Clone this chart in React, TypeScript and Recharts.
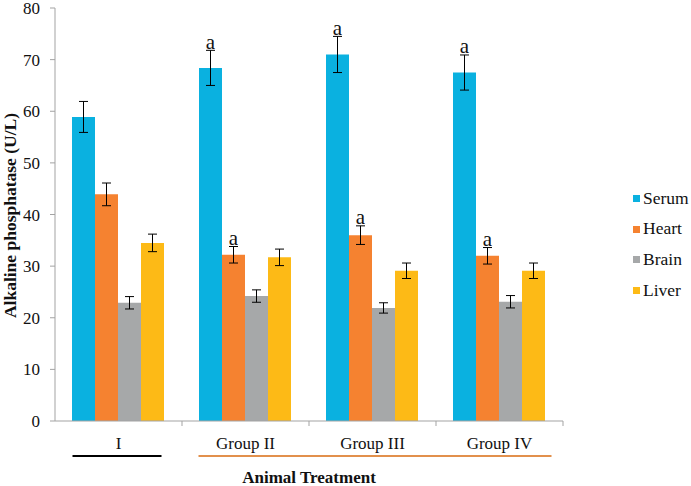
import React from 'react';
import { BarChart, Bar, XAxis, YAxis, ErrorBar, Legend, LabelList } from 'recharts';

const categories = ['I', 'Group II', 'Group III', 'Group IV'];
const seriesNames = ['Serum', 'Heart', 'Brain', 'Liver'];
const serum = [58.9, 68.4, 71.0, 67.5];
const serumErr = [3.0, 3.4, 3.5, 3.4];
const heart = [43.9, 32.2, 36.0, 32.0];
const heartErr = [2.2, 1.6, 1.8, 1.6];
const brain = [22.9, 24.2, 21.9, 23.1];
const brainErr = [1.2, 1.2, 1.0, 1.2];
const liver = [34.5, 31.7, 29.1, 29.1];
const liverErr = [1.7, 1.6, 1.5, 1.5];
const serumSig = ['', 'a', 'a', 'a'];
const heartSig = ['', 'a', 'a', 'a'];
const yTicks = [0, 10, 20, 30, 40, 50, 60, 70, 80];

const data = categories.map((c, i) => ({
  name: c,
  serum: serum[i],
  serumErr: serumErr[i],
  heart: heart[i],
  heartErr: heartErr[i],
  brain: brain[i],
  brainErr: brainErr[i],
  liver: liver[i],
  liverErr: liverErr[i],
  serumSig: serumSig[i],
  heartSig: heartSig[i],
}));

const FONT = '"Liberation Serif", "Times New Roman", serif';
const AXIS = '#A3A3A3';
const seriesColors = ['#0AB1E0', '#F58230', '#A6A8A9', '#FDBA16'];

const CategoryTick = (props: any) => {
  const { x, y, payload, index, width, visibleTicksCount } = props;
  const n = visibleTicksCount || categories.length;
  const band = width && n ? width / n : 127;
  const half = band / 2;
  const cx = Number(x);
  const ay = Number(y);
  let line: any = null;
  if (index === 0) {
    line = <line x1={cx - 46} x2={cx + 43} y1={ay + 35} y2={ay + 35} stroke="#000" strokeWidth={2} />;
  } else {
    const x1 = index === 1 ? cx - 47 : cx - half;
    const x2 = index === n - 1 ? cx + 52 : cx + half;
    line = <line x1={x1} x2={x2} y1={ay + 35} y2={ay + 35} stroke="#E2904C" strokeWidth={2} />;
  }
  return (
    <g>
      {index > 0 && <line x1={cx - half} x2={cx - half} y1={ay} y2={ay + 5} stroke={AXIS} />}
      {index === n - 1 && <line x1={cx + half} x2={cx + half} y1={ay} y2={ay + 5} stroke={AXIS} />}
      <text x={cx} y={ay + 28} textAnchor="middle" style={{ fontFamily: FONT, fontSize: 17 }} fill="#111">
        {payload.value}
      </text>
      {line}
    </g>
  );
};

const YTick = (props: any) => {
  const { x, y, payload } = props;
  return (
    <text x={Number(x)} y={Number(y)} dy={6} textAnchor="end" style={{ fontFamily: FONT, fontSize: 17 }} fill="#111">
      {payload.value}
    </text>
  );
};

const makeSigLabel = (vals: number[], errs: number[]) => (props: any) => {
  const { x, y, width, height, value, index } = props;
  if (!value) return null;
  const h = Number(height);
  const v = vals[index];
  const errPx = v ? (h / v) * errs[index] : 0;
  const top = Number(y) - errPx;
  return (
    <text x={Number(x) + Number(width) / 2} y={top - 1.5} textAnchor="middle" style={{ fontFamily: FONT, fontSize: 21 }} fill="#111">
      {value}
    </text>
  );
};

const LegendContent = () => (
  <div style={{ fontFamily: FONT, fontSize: 17.5, color: '#111', lineHeight: 1 }}>
    {seriesNames.map((name, i) => (
      <div key={name} style={{ height: 30.7, display: 'flex', alignItems: 'center' }}>
        <span style={{ display: 'inline-block', width: 7, height: 7, background: seriesColors[i], marginLeft: 3, marginRight: 3 }} />
        <span>{name}</span>
      </div>
    ))}
  </div>
);

const YLabel = (props: any) => {
  const vb = props.viewBox || { x: 0, y: 8, width: 55, height: 413 };
  const cx = 10;
  const cy = vb.y + vb.height / 2 + 1;
  return (
    <text
      x={cx}
      y={cy}
      transform={`rotate(-90, ${cx}, ${cy})`}
      textAnchor="middle"
      dy={6}
      style={{ fontFamily: FONT, fontSize: 17.5, fontWeight: 'bold' }}
      fill="#111"
    >
      Alkaline phosphatase (U/L)
    </text>
  );
};

const XLabel = (props: any) => {
  const vb = props.viewBox || { x: 55, y: 421, width: 508, height: 65 };
  return (
    <text
      x={vb.x + vb.width / 2}
      y={vb.y + 62}
      textAnchor="middle"
      style={{ fontFamily: FONT, fontSize: 17, fontWeight: 'bold' }}
      fill="#111"
    >
      Animal Treatment
    </text>
  );
};

export default function App() {
  return (
    <div style={{ position: 'absolute', left: 0, top: 0, background: '#fff' }}>
      <BarChart
        width={691}
        height={486}
        data={data}
        margin={{ top: 8, right: 128, left: 0, bottom: 0 }}
        barCategoryGap={17}
        barGap={0}
      >
        <XAxis
          dataKey="name"
          height={65}
          stroke={AXIS}
          tickLine={false}
          tickSize={0}
          tickMargin={0}
          tick={<CategoryTick />}
          interval={0}
          label={<XLabel />}
        />
        <YAxis
          width={55}
          domain={[0, 80]}
          ticks={yTicks}
          interval={0}
          stroke={AXIS}
          tickSize={5}
          tickMargin={10}
          tick={<YTick />}
          label={<YLabel />}
        />
        <Legend
          layout="vertical"
          align="center"
          verticalAlign="middle"
          content={<LegendContent />}
          wrapperStyle={{ left: 630, top: 183, width: 61 }}
        />
        <Bar dataKey="serum" name="Serum" fill={seriesColors[0]} isAnimationActive={false}>
          <ErrorBar dataKey="serumErr" width={4.5} stroke="#000" strokeWidth={1} />
          <LabelList dataKey="serumSig" content={makeSigLabel(serum, serumErr)} />
        </Bar>
        <Bar dataKey="heart" name="Heart" fill={seriesColors[1]} isAnimationActive={false}>
          <ErrorBar dataKey="heartErr" width={4.5} stroke="#000" strokeWidth={1} />
          <LabelList dataKey="heartSig" content={makeSigLabel(heart, heartErr)} />
        </Bar>
        <Bar dataKey="brain" name="Brain" fill={seriesColors[2]} isAnimationActive={false}>
          <ErrorBar dataKey="brainErr" width={4.5} stroke="#000" strokeWidth={1} />
        </Bar>
        <Bar dataKey="liver" name="Liver" fill={seriesColors[3]} isAnimationActive={false}>
          <ErrorBar dataKey="liverErr" width={4.5} stroke="#000" strokeWidth={1} />
        </Bar>
      </BarChart>
    </div>
  );
}
